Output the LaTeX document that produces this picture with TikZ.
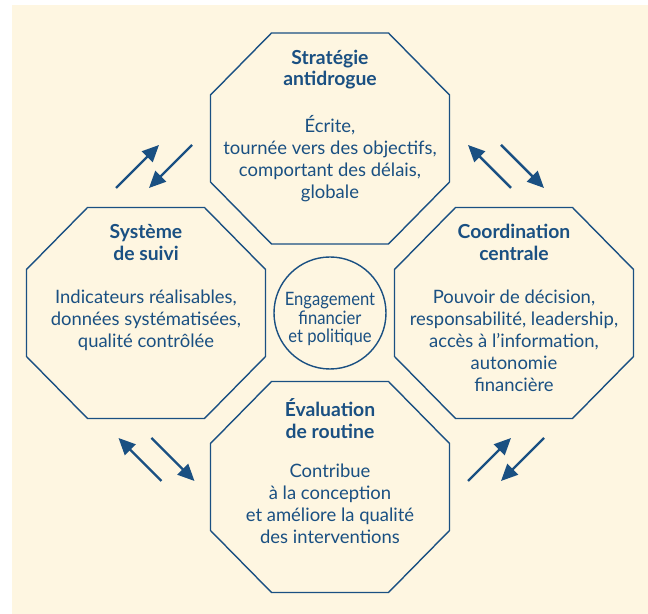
\documentclass[tikz,border=0pt]{standalone}
\usepackage{fontspec}
\setmainfont{Lato}
\newfontfamily\hubfont[FakeStretch=0.9]{Lato}
\usepackage{tikz}
\usetikzlibrary{positioning,arrows.meta}

\definecolor{ink}{RGB}{26,80,130}
\definecolor{paper}{RGB}{254,246,225}

\begin{document}
\begin{tikzpicture}[>={Triangle[length=9.5pt,width=8.5pt]},thick]
  \tikzstyle{box}=[minimum width=4.78cm,minimum height=4.22cm,inner sep=0pt]
  \tikzstyle{frame}=[draw=ink,line width=0.8pt]
  % first line always 12pt high, so the top of a text is its first baseline + 12pt
  \tikzstyle{txt}=[anchor=north,align=center,text=ink,inner sep=0pt,execute at begin node={\rule{0pt}{12pt}}]
  \tikzstyle{head}=[txt,font=\bfseries\fontsize{11}{12.5}\selectfont]
  \tikzstyle{body}=[txt,font=\fontsize{10.5}{12.5}\selectfont]
  \tikzstyle{hub}=[circle,draw=ink,line width=0.8pt,minimum size=2.24cm,inner sep=0pt]
  \tikzstyle{hubtext}=[align=center,text=ink,inner sep=0pt,yshift=-0.12cm,font=\hubfont\fontsize{10.5}{10.5}\selectfont]
  \tikzstyle{flow}=[->,draw=ink,fill=ink,line width=1.4pt]

  % page
  \useasboundingbox (-6.6,-6.02) rectangle (6.36,6.26);
  \fill[paper] (-6.36,-6.02) rectangle (6.36,6.16);

  % the four boxes
  \node[box] (strat) at (0,3.49) {};
  \node[box] (suivi) at (-3.68,0) {};
  \node[box] (coord) at (3.68,0) {};
  \node[box] (eval) at (0,-3.48) {};

  \foreach \n in {strat,suivi,coord,eval}
    \draw[frame] (\n.center) ++(-1.17,2.11) -- ++(2.34,0) -- ++(1.22,-1.24) -- ++(0,-1.74)
      -- ++(-1.22,-1.24) -- ++(-2.34,0) -- ++(-1.22,1.24) -- ++(0,1.74) -- cycle;

  % titles
  \node[head,yshift=-9.5pt] (strathead) at (strat.north) {Stratégie\\antidrogue};
  \node[head,yshift=-9.5pt] (suivihead) at (suivi.north) {Système\\de suivi};
  \node[head,yshift=-9.5pt] (coordhead) at (coord.north) {Coordination\\centrale};
  \node[head,yshift=-9.5pt] (evalhead) at (eval.north) {Évaluation\\de routine};

  % texts
  \node[body,yshift=-47pt] (stratbody) at (strat.north)
    {Écrite,\\tournée vers des objectifs,\\comportant des délais,\\globale};
  \node[body,yshift=-47pt] (suivibody) at (suivi.north)
    {Indicateurs réalisables,\\données systématisées,\\qualité contrôlée};
  \node[body,yshift=-47pt] (coordbody) at (coord.north)
    {Pouvoir de décision,\\responsabilité, leadership,\\accès à l’information,\\autonomie\\financière};
  \node[body,yshift=-47pt] (evalbody) at (eval.north)
    {Contribue\\à la conception\\et améliore la qualité\\des interventions};

  % centre
  \node[hub,label={[hubtext]center:{Engagement\\financier\\et politique}}] (hub) at (0,0) {};

  % arrows between the boxes
  \foreach \x/\y/\s [count=\i] in {-3.52/2.93/1, 3.52/2.93/-1, -3.47/-2.93/-1, 3.52/-2.93/1} {
    \coordinate (gap\i) at (\x,\y);
    \draw[flow] (gap\i) ++({-0.33-0.43*\s},-0.43) -- ++({0.86*\s},0.86);
    \draw[flow] (gap\i) ++({0.33+0.43*\s},0.43) -- ++({-0.86*\s},-0.86);
  }
\end{tikzpicture}
\end{document}
